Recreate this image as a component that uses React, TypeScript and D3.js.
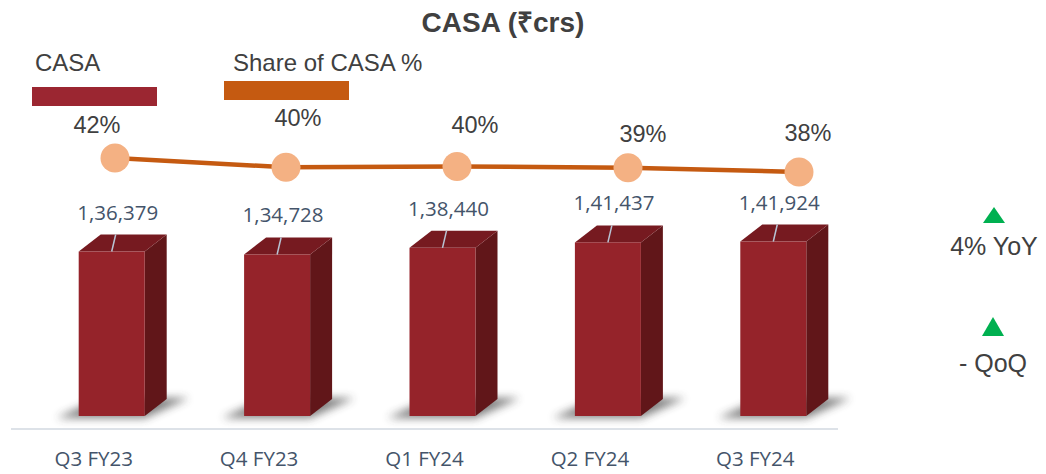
import React from "react";
import * as d3 from "d3";

const categories = ["Q3 FY23", "Q4 FY23", "Q1 FY24", "Q2 FY24", "Q3 FY24"];
const casaValues = [136379, 134728, 138440, 141437, 141924];
const shareValues = [41.6, 39.5, 39.7, 39.4, 38.45];
const legendLabels = ["CASA", "Share of CASA %"];
const growthLabels = ["4% YoY", "- QoQ"];
const titleText = "CASA (₹crs)";

// layout-only label nudges for the share labels (dx, dy relative to point)
const shareLabelNudge: [number, number][] = [
  [-18, -25],
  [12, -41],
  [18, -33],
  [15, -26],
  [9, -31],
];

const W = 1046;
const H = 474;
const ARIAL = "'Liberation Sans', Arial, sans-serif";
const CAL = "'Open Sans', 'Noto Sans', sans-serif";

function inr(n: number): string {
  const s = String(Math.round(n));
  if (s.length <= 3) return s;
  const last3 = s.slice(-3);
  const rest = s.slice(0, -3).replace(/\B(?=(\d{2})+(?!\d))/g, ",");
  return rest + "," + last3;
}

export default function App() {
  const x = d3.scaleBand<string>().domain(categories).range([11, 838]).padding(0);
  const base = 416;
  const y = d3.scaleLinear().domain([45000, 145000]).range([base, 236]);
  const xl = d3.scalePoint<string>().domain(categories).range([115, 799]);
  const yl = d3.scaleLinear().domain([30, 50]).range([209, 121.2]);

  const bw = 66;
  const dx = 22;
  const dy = 17;

  const linePath =
    d3
      .line<number>()
      .x((_, i) => xl(categories[i]) as number)
      .y((d) => yl(d))(shareValues) || "";

  const front = "#95232A";
  const top = "#761A20";
  const side = "#611619";

  return (
    <svg
      width={W}
      height={H}
      style={{ position: "absolute", left: 0, top: 0, background: "#fff" }}
    >
      <defs>
        <filter id="blur" x="-50%" y="-50%" width="200%" height="200%">
          <feGaussianBlur stdDeviation="4" />
        </filter>
      </defs>
      <text
        x={503}
        y={32}
        textAnchor="middle"
        fontFamily={ARIAL}
        fontWeight="bold"
        fontSize={28}
        fill="#404040"
      >
        {titleText}
      </text>

      {/* legend */}
      <text x={35} y={71} fontFamily={ARIAL} fontSize={24} fill="#404040">
        {legendLabels[0]}
      </text>
      <rect x={32} y={87} width={125} height={19} fill="#9B2631" />
      <text x={233} y={71} fontFamily={ARIAL} fontSize={24} fill="#404040">
        {legendLabels[1]}
      </text>
      <rect x={224} y={81} width={125} height={19} fill="#C55A11" />

      {/* axis line */}
      <line x1={11} x2={838} y1={429} y2={429} stroke="#DDE2E8" strokeWidth={2} />

      {/* bars */}
      {casaValues.map((v, i) => {
        const bx = (x(categories[i]) as number) + x.bandwidth() / 2 - 15;
        const ty = y(v);
        const shadow = [
          [bx - 22, base + 2],
          [bx + bw, base + 2],
          [bx + bw + dx + 22, base - dy - 1],
          [bx + dx, base - dy - 1],
        ];
        return (
          <g key={"b" + i}>
            <polygon
              points={shadow.map((p) => p.join(",")).join(" ")}
              fill="#3a3a3a"
              opacity={0.65}
              filter="url(#blur)"
            />
            <polygon
              points={`${bx + bw},${ty} ${bx + bw + dx},${ty - dy} ${bx + bw + dx},${base - dy} ${bx + bw},${base}`}
              fill={side}
            />
            <polygon
              points={`${bx},${ty} ${bx + bw},${ty} ${bx + bw + dx},${ty - dy} ${bx + dx},${ty - dy}`}
              fill={top}
            />
            <rect x={bx} y={ty} width={bw} height={base - ty} fill={front} />
            <line
              x1={bx + bw / 2}
              y1={ty}
              x2={bx + bw / 2 + 4}
              y2={ty - dy}
              stroke="#B8C4D4"
              strokeWidth={1.5}
            />
            <text
              x={bx + bw / 2 + 6}
              y={ty - dy - 15}
              textAnchor="middle"
              fontFamily={CAL}
              fontSize={20.5}
              fill="#44546A"
            >
              {inr(v)}
            </text>
            <text
              x={(x(categories[i]) as number) + x.bandwidth() / 2}
              y={466}
              textAnchor="middle"
              fontFamily={CAL}
              fontSize={20.5}
              fill="#44546A"
            >
              {categories[i]}
            </text>
          </g>
        );
      })}

      {/* share line */}
      <path d={linePath} fill="none" stroke="#C55A11" strokeWidth={4.5} />
      {shareValues.map((v, i) => {
        const cx = xl(categories[i]) as number;
        const cy = yl(v);
        return (
          <g key={"s" + i}>
            <circle cx={cx} cy={cy} r={14.5} fill="#F4B183" />
            <text
              x={cx + shareLabelNudge[i][0]}
              y={cy + shareLabelNudge[i][1]}
              textAnchor="middle"
              fontFamily={ARIAL}
              fontSize={23.5}
              fill="#404040"
            >
              {Math.round(v) + "%"}
            </text>
          </g>
        );
      })}

      {/* growth indicators */}
      <polygon points="983,223 1005,223 994,207" fill="#00B050" />
      <text x={994} y={255} textAnchor="middle" fontFamily={ARIAL} fontSize={25} fill="#404040">
        {growthLabels[0]}
      </text>
      <polygon points="982,336 1004,336 993,317" fill="#00B050" />
      <text x={993} y={372} textAnchor="middle" fontFamily={ARIAL} fontSize={25} fill="#404040">
        {growthLabels[1]}
      </text>
    </svg>
  );
}
